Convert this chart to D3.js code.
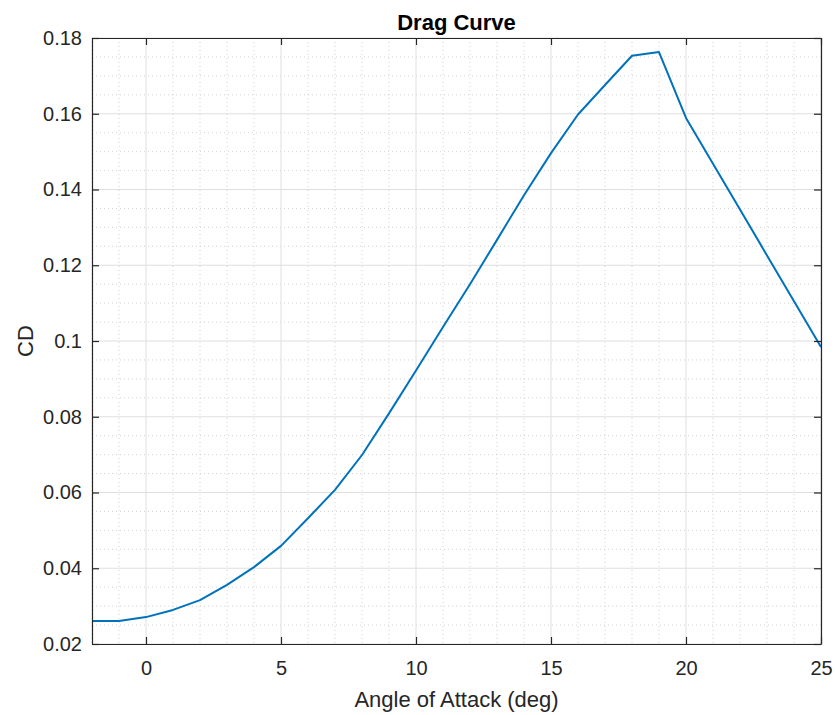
<!DOCTYPE html>
<html>
<head>
<meta charset="utf-8">
<script src="https://cdn.jsdelivr.net/npm/d3@7"></script>
<style>
  body { margin: 0; background: #fff; }
  svg { font-family: "Liberation Sans", Arial, Helvetica, sans-serif; }
</style>
</head>
<body>
<svg id="chart"></svg>
<script>
(function() {

// angle of attack (deg) and drag coefficient
const alpha = [-2, -1, 0, 1, 2, 3, 4, 5, 6, 7, 8, 9, 10, 11, 12, 13, 14, 15, 16, 17, 18, 19, 20, 21, 22, 23, 24, 25];
const cd = [0.0261, 0.0261, 0.0271, 0.0290, 0.0316, 0.0356, 0.0403, 0.0459, 0.0532, 0.0607, 0.0699, 0.0809, 0.0922,
            0.1037, 0.1150, 0.1267, 0.1385, 0.1496, 0.1598, 0.1676, 0.1753, 0.1763, 0.1589, 0.1468, 0.1347, 0.1226, 0.1105, 0.0984];

const xTicks = [0, 5, 10, 15, 20, 25];
const yTicks = [0.02, 0.04, 0.06, 0.08, 0.1, 0.12, 0.14, 0.16, 0.18];

const W = 835, H = 715;
const margin = { top: 38, right: 14, bottom: 71, left: 92 };
const width = W - margin.left - margin.right;
const height = H - margin.top - margin.bottom;

const axisColor = "#262626";

const svg = d3.select("#chart")
    .attr("width", W)
    .attr("height", H);

const g = svg.append("g")
    .attr("transform", `translate(${margin.left},${margin.top})`);

const x = d3.scaleLinear().domain([-2, 25]).range([0, width]);
const y = d3.scaleLinear().domain([0.02, 0.18]).range([height, 0]);

// minor grid
const xMinor = d3.range(-2, 26, 1).filter(v => v % 5 !== 0);
const yMinor = d3.range(0.02, 0.1801, 0.005).filter(v => Math.abs(v / 0.02 - Math.round(v / 0.02)) > 1e-6);

g.selectAll(".xminor")
    .data(xMinor)
    .enter().append("line")
    .attr("x1", d => x(d)).attr("x2", d => x(d))
    .attr("y1", 0).attr("y2", height)
    .attr("stroke", "#c8c8c8")
    .attr("stroke-width", 0.8)
    .attr("stroke-dasharray", "1,3");

g.selectAll(".yminor")
    .data(yMinor)
    .enter().append("line")
    .attr("x1", 0).attr("x2", width)
    .attr("y1", d => y(d)).attr("y2", d => y(d))
    .attr("stroke", "#c8c8c8")
    .attr("stroke-width", 0.8)
    .attr("stroke-dasharray", "1,3");

// major grid
g.selectAll(".xgrid")
    .data(xTicks)
    .enter().append("line")
    .attr("x1", d => x(d)).attr("x2", d => x(d))
    .attr("y1", 0).attr("y2", height)
    .attr("stroke", "#dfdfdf")
    .attr("stroke-width", 1);

g.selectAll(".ygrid")
    .data(yTicks)
    .enter().append("line")
    .attr("x1", 0).attr("x2", width)
    .attr("y1", d => y(d)).attr("y2", d => y(d))
    .attr("stroke", "#dfdfdf")
    .attr("stroke-width", 1);

// data line
const line = d3.line()
    .x((d, i) => x(alpha[i]))
    .y(d => y(d));

g.append("path")
    .datum(cd)
    .attr("fill", "none")
    .attr("stroke", "#0072BD")
    .attr("stroke-width", 2)
    .attr("stroke-linejoin", "round")
    .attr("d", line);

// axes (ticks inward, box on)
function styleAxis(sel) {
    sel.select(".domain").attr("stroke", axisColor).attr("stroke-width", 1.2);
    sel.selectAll(".tick line").attr("stroke", axisColor).attr("stroke-width", 1.2);
    sel.selectAll("text")
        .attr("fill", axisColor)
        .attr("font-size", "20px")
        .attr("font-family", "'Liberation Sans', Arial, sans-serif");
}

g.append("g")
    .attr("transform", `translate(0,${height})`)
    .call(d3.axisBottom(x).tickValues(xTicks).tickSize(-7).tickPadding(17).tickSizeOuter(0))
    .call(styleAxis);

g.append("g")
    .call(d3.axisTop(x).tickValues(xTicks).tickSize(-7).tickSizeOuter(0).tickFormat(""))
    .call(styleAxis);

g.append("g")
    .call(d3.axisLeft(y).tickValues(yTicks).tickSize(-7).tickPadding(10).tickSizeOuter(0)
        .tickFormat(d3.format("~g")))
    .call(styleAxis);

g.append("g")
    .attr("transform", `translate(${width},0)`)
    .call(d3.axisRight(y).tickValues(yTicks).tickSize(-7).tickSizeOuter(0).tickFormat(""))
    .call(styleAxis);

// title and labels
svg.append("text")
    .attr("x", margin.left + width / 2)
    .attr("y", 30)
    .attr("text-anchor", "middle")
    .attr("font-size", "22px")
    .attr("font-weight", "bold")
    .attr("fill", "#000")
    .text("Drag Curve");

svg.append("text")
    .attr("x", margin.left + width / 2)
    .attr("y", 707)
    .attr("text-anchor", "middle")
    .attr("font-size", "22px")
    .attr("fill", axisColor)
    .text("Angle of Attack (deg)");

svg.append("text")
    .attr("transform", `translate(33,${margin.top + height / 2}) rotate(-90)`)
    .attr("text-anchor", "middle")
    .attr("font-size", "22px")
    .attr("fill", axisColor)
    .text("CD");

})();
</script>
</body>
</html>
